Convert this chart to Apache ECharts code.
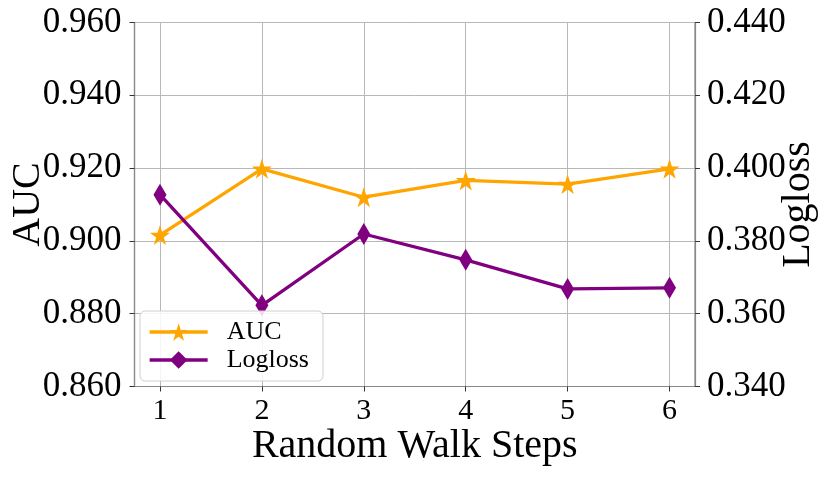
<!DOCTYPE html>
<html>
<head>
<meta charset="utf-8">
<script src="https://cdn.jsdelivr.net/npm/echarts@6/dist/echarts.min.js"></script>
<style>html,body{margin:0;padding:0;background:#fff;}#c{width:830px;height:481px;}</style>
</head>
<body>
<div id="c"></div>
<script>
const steps = [1, 2, 3, 4, 5, 6];
const aucValues = [0.9016, 0.9198, 0.9120, 0.9166, 0.9156, 0.9198];
const loglossValues = [0.3927, 0.3623, 0.3819, 0.3748, 0.3668, 0.3671];
const aucTicks = [0.86, 0.88, 0.90, 0.92, 0.94, 0.96];
const loglossTicks = [0.34, 0.36, 0.38, 0.40, 0.42, 0.44];

const FONT = '"Liberation Serif", "DejaVu Serif", serif';
const STAR = 'path://M50,0 L61.2,34.5 L97.6,34.5 L68.2,55.9 L79.4,90.5 L50,69.1 L20.6,90.5 L31.8,55.9 L2.4,34.5 L38.8,34.5 Z';

const chart = echarts.init(document.getElementById('c'));
chart.setOption({
  animation: false,
  backgroundColor: '#fff',
  grid: {
    left: 134.5, right: 135, top: 22.5, bottom: 94.5,
    containLabel: false, outerBoundsMode: 'none',
    show: true, borderColor: '#888', borderWidth: 1.2, backgroundColor: 'transparent'
  },
  legend: {
    orient: 'vertical',
    left: 140, top: 311,
    backgroundColor: 'rgba(255,255,255,0.85)',
    borderColor: '#d0d0d0', borderWidth: 1, borderRadius: 5,
    padding: [8, 14, 8, 8],
    itemWidth: 58, itemHeight: 22, itemGap: 2,
    lineStyle: { width: 3.3 },
    textStyle: { fontFamily: FONT, fontSize: 26, color: '#000', padding: [0, 0, 0, 14] },
    data: ['AUC', 'Logloss']
  },
  xAxis: {
    type: 'value', min: 0.75, max: 6.25,
    name: 'Random Walk Steps', nameLocation: 'middle', nameGap: 40, nameMoveOverlap: false,
    nameTextStyle: { fontFamily: FONT, fontSize: 40, color: '#000' },
    axisLine: { show: true, lineStyle: { color: '#888', width: 1.2 } },
    axisTick: { show: true, length: 5, lineStyle: { color: '#333' }, customValues: steps },
    axisLabel: { customValues: steps, fontFamily: FONT, fontSize: 30, color: '#000', margin: 10 },
    splitLine: { show: true, lineStyle: { color: '#b8b8b8', width: 1 } }
  },
  yAxis: [
    {
      type: 'value', min: 0.86, max: 0.96, interval: 0.02, position: 'left',
      name: 'AUC', nameLocation: 'middle', nameGap: 86, nameRotate: 90, nameMoveOverlap: false,
      nameTextStyle: { fontFamily: FONT, fontSize: 40, color: '#000' },
      axisLine: { show: true, lineStyle: { color: '#888', width: 1.2 } },
      axisTick: { show: true, length: 5, lineStyle: { color: '#333' } },
      axisLabel: { fontFamily: FONT, fontSize: 35, color: '#000', margin: 13,
        formatter: v => v.toFixed(3) },
      splitLine: { show: true, lineStyle: { color: '#b8b8b8', width: 1 } }
    },
    {
      type: 'value', min: 0.34, max: 0.44, interval: 0.02, position: 'right',
      name: 'Logloss', nameLocation: 'middle', nameGap: 83, nameRotate: 90, nameMoveOverlap: false,
      nameTextStyle: { fontFamily: FONT, fontSize: 40, color: '#000' },
      axisLine: { show: true, lineStyle: { color: '#888', width: 1.2 } },
      axisTick: { show: true, length: 5, lineStyle: { color: '#333' } },
      axisLabel: { fontFamily: FONT, fontSize: 35, color: '#000', margin: 12,
        formatter: v => v.toFixed(3) },
      splitLine: { show: false }
    }
  ],
  series: [
    {
      name: 'AUC', type: 'line', yAxisIndex: 0,
      data: steps.map((s, i) => [s, aucValues[i]]),
      symbol: STAR, symbolSize: 20,
      lineStyle: { color: '#FFA500', width: 3.3 },
      itemStyle: { color: '#FFA500' }
    },
    {
      name: 'Logloss', type: 'line', yAxisIndex: 1,
      data: steps.map((s, i) => [s, loglossValues[i]]),
      symbol: 'diamond', symbolSize: [13, 22],
      lineStyle: { color: '#800080', width: 3.3 },
      itemStyle: { color: '#800080' }
    }
  ]
});
</script>
</body>
</html>
